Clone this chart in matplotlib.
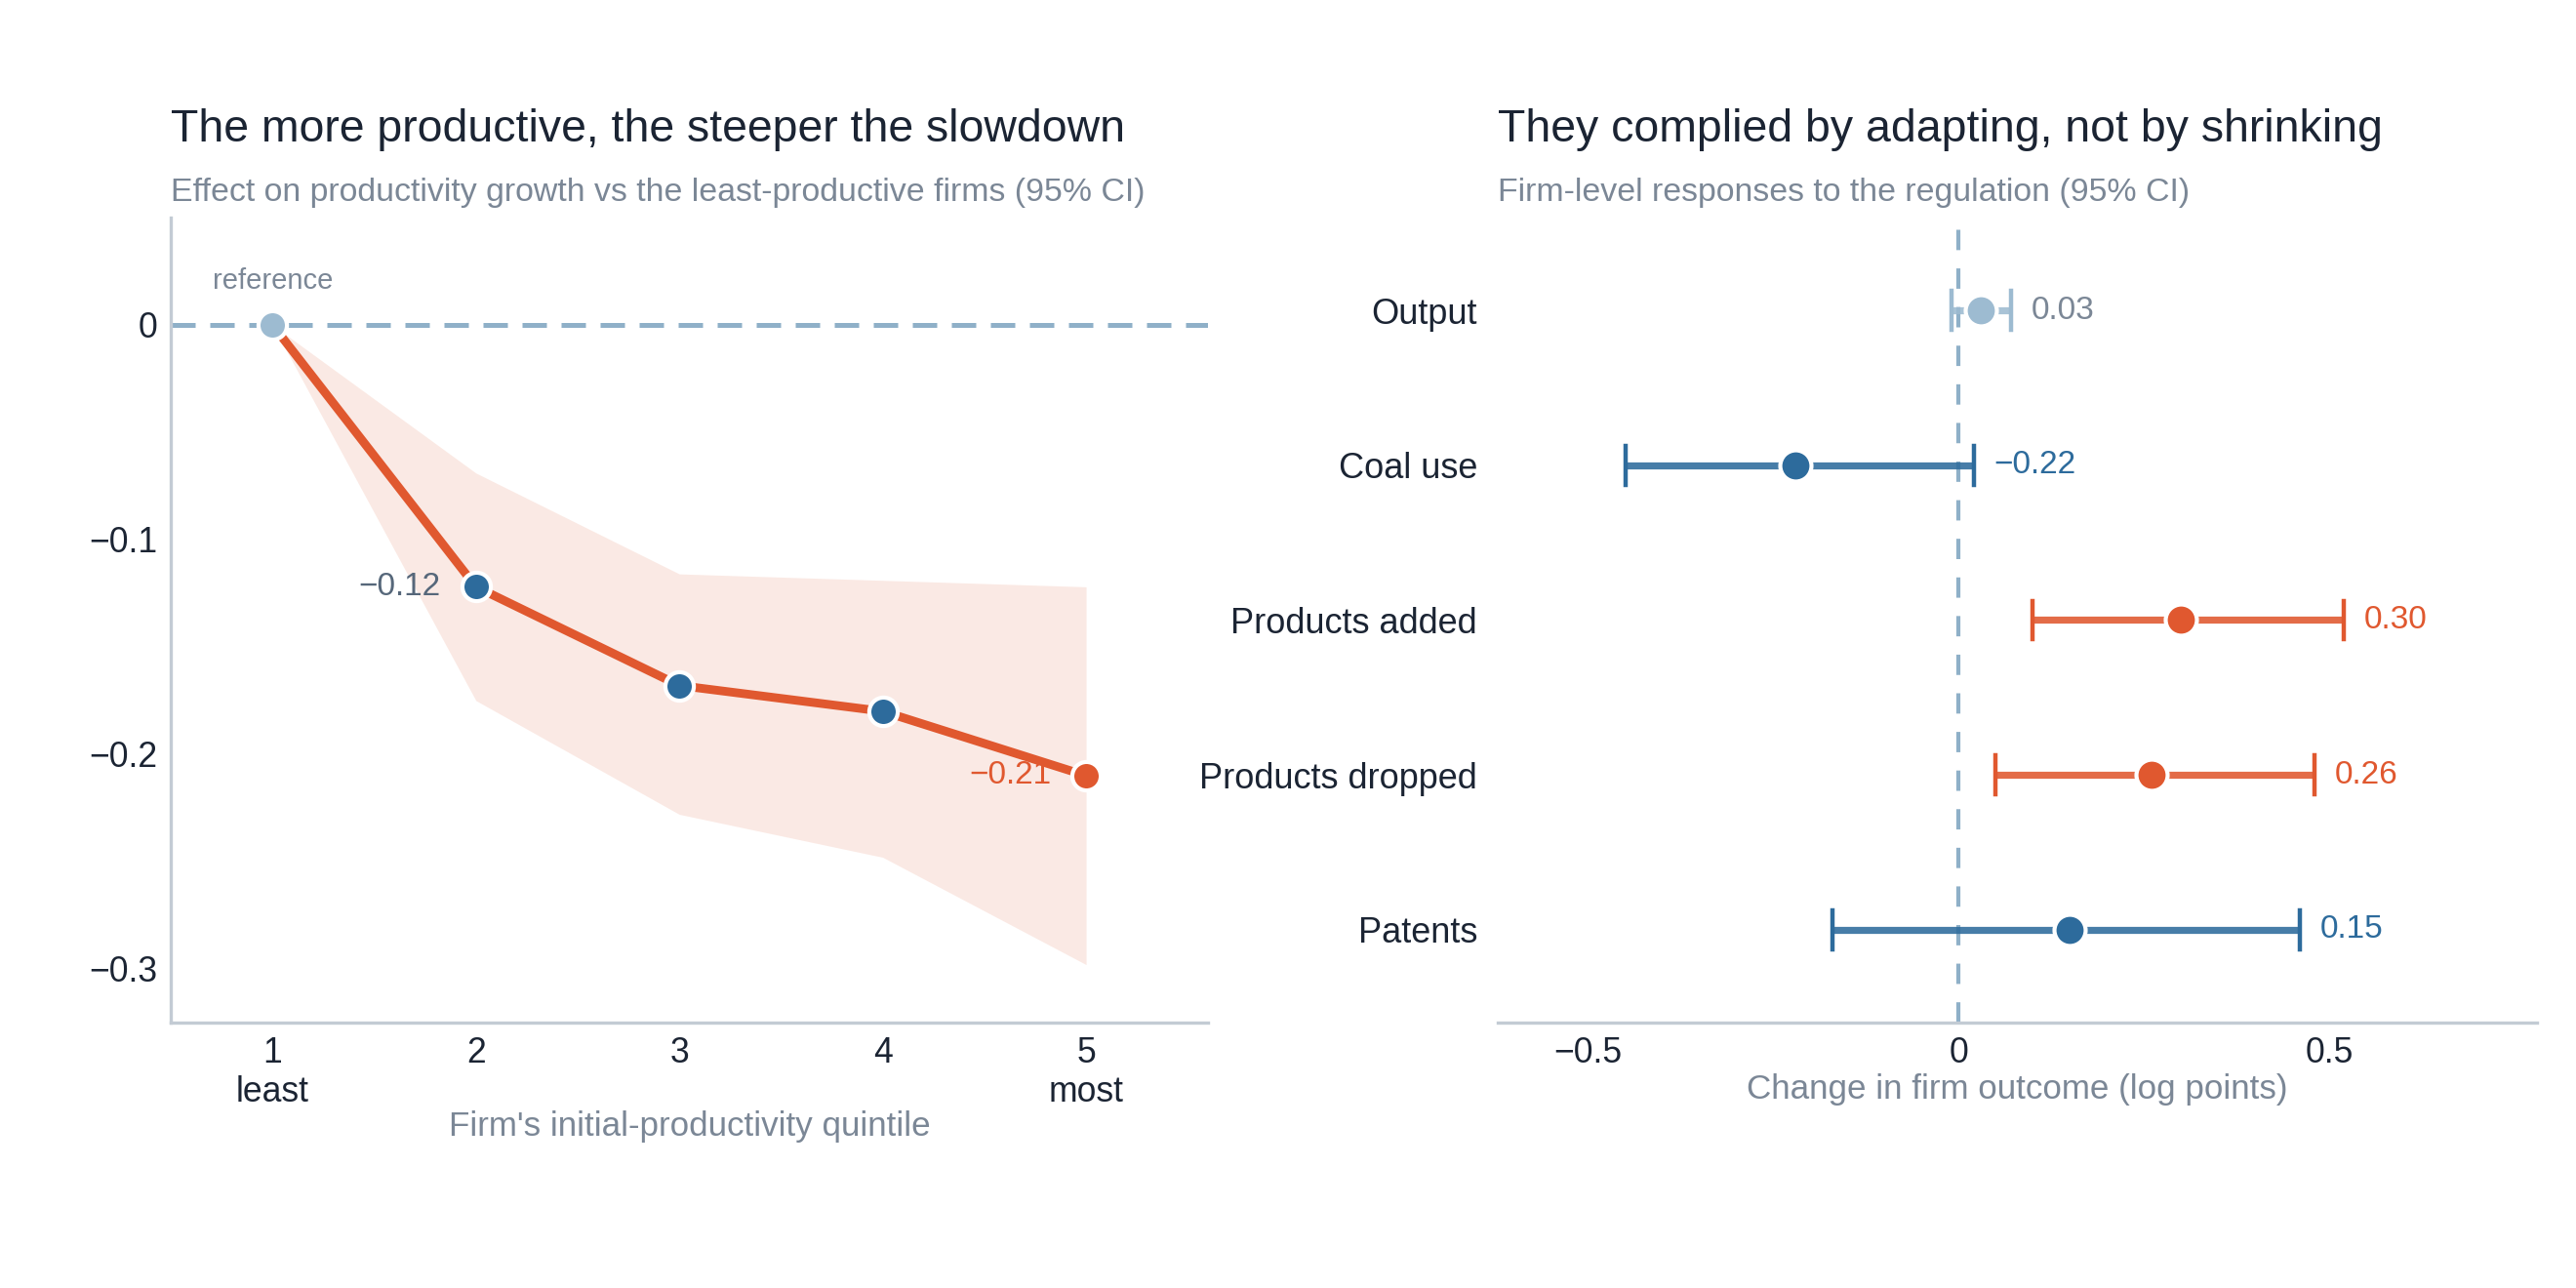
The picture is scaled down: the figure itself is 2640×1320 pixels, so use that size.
import matplotlib
matplotlib.use("Agg")
import matplotlib.pyplot as plt

plt.rcParams['font.family'] = ['Liberation Sans', 'DejaVu Sans']

# ---------------- data ----------------
quintiles = [1, 2, 3, 4, 5]
quintile_labels = ["1\nleast", "2", "3", "4", "5\nmost"]
effect = [0.0, -0.122, -0.168, -0.180, -0.210]
ci_low = [0.0, -0.175, -0.228, -0.248, -0.298]
ci_high = [0.0, -0.069, -0.116, -0.119, -0.122]
effect_labels = {1: "\u22120.12", 4: "\u22120.21"}

outcomes = ["Output", "Coal use", "Products added", "Products dropped", "Patents"]
estimates = [0.03, -0.22, 0.30, 0.26, 0.15]
est_low = [-0.01, -0.45, 0.10, 0.05, -0.17]
est_high = [0.07, 0.02, 0.52, 0.48, 0.46]
est_labels = ["0.03", "\u22120.22", "0.30", "0.26", "0.15"]

# ---------------- styles ----------------
ORANGE = "#e0582f"
BLUE = "#2d6b9c"
LIGHT = "#9dbbd1"
DARK = "#1b2433"
GRAY = "#7b8796"
SLATE = "#56677a"
SPINE = "#c3cbd4"
REF = "#8fb0c8"

fig = plt.figure(figsize=(13.2, 6.6), dpi=200)
fig.patch.set_facecolor("white")

axL = fig.add_axes([0.0663, 0.2061, 0.4027, 0.625])
axR = fig.add_axes([0.5814, 0.2061, 0.4034, 0.625])

# ---------------- left panel ----------------
axL.set_xlim(0.5, 5.6)
axL.set_ylim(-0.325, 0.05)
axL.axhline(0, color=REF, lw=1.8, dashes=(5, 3), zorder=1)
axL.fill_between(quintiles, ci_low, ci_high, color=ORANGE, alpha=0.13, lw=0, zorder=1)
for i, txt in effect_labels.items():
    axL.annotate(txt, (quintiles[i], effect[i]), xytext=(-13, 0), textcoords="offset points",
                 ha="right", va="center", fontsize=12,
                 color=(SLATE if i != 4 else ORANGE), zorder=2)
axL.plot(quintiles, effect, color=ORANGE, lw=3.2, zorder=3, solid_capstyle="butt")
mcolors = [LIGHT, BLUE, BLUE, BLUE, ORANGE]
for x, y, c in zip(quintiles, effect, mcolors):
    axL.plot([x], [y], marker="o", ms=10.5, mfc=c, mec="white", mew=1.5, zorder=4, ls="none")
axL.annotate("reference", (quintiles[0], effect[0]), xytext=(0, 11), textcoords="offset points",
             ha="center", va="bottom", fontsize=10.5, color=GRAY)

axL.set_xticks(quintiles)
axL.set_xticklabels(quintile_labels, fontsize=12.8, color=DARK, linespacing=1.2)
axL.set_yticks([0, -0.1, -0.2, -0.3])
axL.set_yticklabels(["0", "\u22120.1", "\u22120.2", "\u22120.3"], fontsize=12.8, color=DARK)
axL.tick_params(axis="both", length=0)
axL.tick_params(axis="x", pad=5)
axL.tick_params(axis="y", pad=5)
for s in ["top", "right"]:
    axL.spines[s].set_visible(False)
for s in ["left", "bottom"]:
    axL.spines[s].set_color(SPINE)
    axL.spines[s].set_linewidth(1.2)
axL.set_xlabel("Firm's initial-productivity quintile", fontsize=12.6, color=GRAY)
axL.xaxis.label.set_va("baseline")
axL.xaxis.set_label_coords(0.5, -0.1406)

# ---------------- right panel ----------------
ypos = list(range(len(outcomes)))
axR.set_xlim(-0.622, 0.78)
axR.set_ylim(4.6, -0.6)
axR.axvline(0, color=REF, lw=1.5, dashes=(5, 4.5), zorder=1)
bar_colors = [LIGHT, BLUE, ORANGE, ORANGE, BLUE]
lab_colors = [GRAY, BLUE, ORANGE, ORANGE, BLUE]
for y, est, lo, hi, c, lc, lab in zip(ypos, estimates, est_low, est_high, bar_colors, lab_colors, est_labels):
    axR.plot([lo, hi], [y, y], color=c, lw=2.6, alpha=0.88, zorder=2, solid_capstyle="butt")
    axR.plot([lo, lo], [y - 0.125, y + 0.125], color=c, lw=1.6, zorder=2)
    axR.plot([hi, hi], [y - 0.125, y + 0.125], color=c, lw=1.6, zorder=2)
    axR.plot([est], [y], marker="o", ms=11.5, mfc=c, mec="white", mew=1.5, zorder=4, ls="none")
    axR.annotate(lab, (hi, y), xytext=(7.5, 0), textcoords="offset points",
                 ha="left", va="center", fontsize=12, color=lc)

axR.set_yticks(ypos)
axR.set_yticklabels(outcomes, fontsize=13, color=DARK)
axR.set_xticks([-0.5, 0, 0.5])
axR.set_xticklabels(["\u22120.5", "0", "0.5"], fontsize=12.8, color=DARK)
axR.tick_params(axis="both", length=0)
axR.tick_params(axis="y", pad=7.5)
axR.tick_params(axis="x", pad=5)
for s in ["top", "right", "left"]:
    axR.spines[s].set_visible(False)
axR.spines["bottom"].set_color(SPINE)
axR.spines["bottom"].set_linewidth(1.2)
axR.set_xlabel("Change in firm outcome (log points)", fontsize=12.6, color=GRAY)
axR.xaxis.label.set_va("baseline")
axR.xaxis.set_label_coords(0.5, -0.0945)

# ---------------- titles ----------------
fig.text(0.0663, 0.890, "The more productive, the steeper the slowdown",
         fontsize=16.7, color=DARK, ha="left", va="baseline")
fig.text(0.0663, 0.844, "Effect on productivity growth vs the least-productive firms (95% CI)",
         fontsize=12.2, color=GRAY, ha="left", va="baseline")
fig.text(0.5814, 0.890, "They complied by adapting, not by shrinking",
         fontsize=16.7, color=DARK, ha="left", va="baseline")
fig.text(0.5814, 0.844, "Firm-level responses to the regulation (95% CI)",
         fontsize=12.2, color=GRAY, ha="left", va="baseline")

fig.savefig("out.png", dpi=200, facecolor="white")
